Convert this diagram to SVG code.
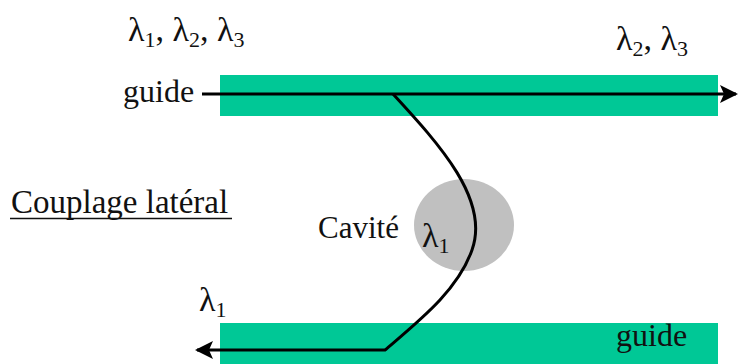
<svg xmlns="http://www.w3.org/2000/svg" width="739" height="364" viewBox="0 0 739 364">
<style>
.t{font-family:"Liberation Serif","Times New Roman",serif;fill:#111;}
.g{fill:#00C896;}
.w{fill:none;stroke:#000;stroke-width:3;}
.s{font-size:22px;}
</style>
<defs>
<marker id="ah" viewBox="0 0 18 18" refX="16" refY="9" markerWidth="18" markerHeight="18" markerUnits="userSpaceOnUse" orient="auto">
<path d="M0,0 L18,9 L0,18 L4,9 Z" fill="#000"/>
</marker>
</defs>
<rect width="739" height="364" fill="#fff"/>
<g id="guide-top">
<rect class="g" x="220" y="75" width="498" height="41"/>
<text class="t" x="123" y="102" font-size="32">guide</text>
</g>
<g id="guide-bottom">
<rect class="g" x="220" y="323" width="498" height="41"/>
<text class="t" x="616" y="346" font-size="32">guide</text>
</g>
<g id="cavite">
<ellipse cx="464" cy="225" rx="50" ry="46" fill="#C0C0C0"/>
<text class="t" x="318" y="238" font-size="31">Cavité</text>
<text class="t" x="422" y="247" font-size="34">λ<tspan class="s" dy="6">1</tspan></text>
</g>
<g id="labels">
<text class="t" x="128" y="41" font-size="34">λ<tspan class="s" dy="6">1</tspan><tspan dy="-6">,  λ</tspan><tspan class="s" dy="6">2</tspan><tspan dy="-6">,  λ</tspan><tspan class="s" dy="6">3</tspan></text>
<text class="t" x="616" y="50" font-size="34">λ<tspan class="s" dy="6">2</tspan><tspan dy="-6">, λ</tspan><tspan class="s" dy="6">3</tspan></text>
<text class="t" x="199" y="311" font-size="34">λ<tspan class="s" dy="6">1</tspan></text>
<text class="t" x="11" y="213" font-size="33">Couplage latéral</text>
<line x1="10" y1="218.5" x2="232" y2="218.5" stroke="#111" stroke-width="1.6"/>
</g>
<g id="connectors">
<path class="w" d="M202,94 L736,94" marker-end="url(#ah)"/>
<path class="w" d="M393,94 C440,145 490,200 472,250 C458,290 420,320 385,350 L197,350" marker-end="url(#ah)"/>
</g>
</svg>
